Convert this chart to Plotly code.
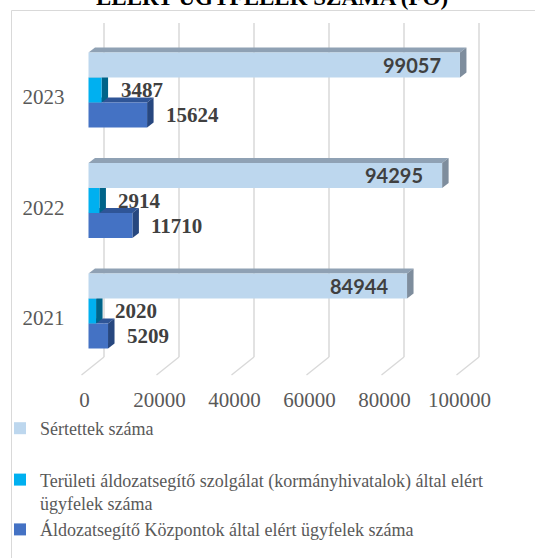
import plotly.graph_objects as go

# ---------------- data ----------------
years = ["2021", "2022", "2023"]
series_names = [
    "Áldozatsegítő Központok által elért ügyfelek száma",
    "Területi áldozatsegítő szolgálat (kormányhivatalok) által elért<br>ügyfelek száma",
    "Sértettek száma",
]
kozpontok = [5209, 11710, 15624]
teruleti = [2020, 2914, 3487]
sertettek = [84944, 94295, 99057]
x_ticks = [0, 20000, 40000, 60000, 80000, 100000]
title_text = "ELÉRT ÜGYFELEK SZÁMA (FŐ)"

front_colors = ["#4472C4", "#00B0F0", "#BDD7EE"]
top_colors = ["#2F5597", "#00719B", "#8FA1B4"]
side_colors = ["#27477F", "#006489", "#7E8D9D"]

# ---------------- geometry helpers ----------------
W, H = 535, 558
X0_PX = 88.5          # pixel of value 0
PX_PER_UNIT = 0.00375  # pixels per unit value
XMIN, XMAX = -10000, 105000
Y_TOP_PX, Y_BOT_PX = 34.75, 366.25
CAT_PX = (Y_BOT_PX - Y_TOP_PX) / 3
BARGAP = 0.32


def px(xp):
    return xp / W


def py(yp):
    return 1 - yp / H


def u(p):  # pixels -> value units on x
    return p / PX_PER_UNIT


dom_x = [px(X0_PX + XMIN * PX_PER_UNIT), px(X0_PX + XMAX * PX_PER_UNIT)]
dom_y = [py(Y_BOT_PX), py(Y_TOP_PX)]
ypos = list(range(len(years)))

fig = go.Figure()
all_series = [kozpontok, teruleti, sertettek]
groups = ["b", "b", "a"]
ranks = [3, 2, 1]
for i, (name, vals) in enumerate(zip(series_names, all_series)):
    fig.add_trace(go.Bar(
        y=ypos, x=vals, name=name, orientation="h",
        marker=dict(color=front_colors[i], line=dict(width=0)),
        legendgroup=groups[i], legendrank=ranks[i], hoverinfo="skip",
    ))

shapes = []
# back-wall gridlines and floor diagonals
for v in x_ticks:
    shapes.append(dict(type="line", xref="x", yref="paper",
                       x0=v + u(15.5), x1=v + u(15.5), y0=py(23), y1=py(357),
                       line=dict(color="#D9D9D9", width=1.5), layer="below"))
    shapes.append(dict(type="line", xref="x", yref="paper",
                       x0=v + u(15.5), x1=v - u(7), y0=py(357), y1=py(375),
                       line=dict(color="#D9D9D9", width=1.5), layer="below"))

# 3D faces
w = (1 - BARGAP) / 3
dxu = u(6.5)
dyc = 5 / CAT_PX
annotations = []
for t, vals in enumerate(all_series):
    for c, v in enumerate(vals):
        center = c + (t - 1) * w
        top, bot = center + w / 2, center - w / 2
        shapes.append(dict(type="path", xref="x", yref="y", layer="below",
                           path=f"M0,{top} L{v},{top} L{v + dxu},{top + dyc} L{dxu},{top + dyc} Z",
                           fillcolor=top_colors[t], line=dict(width=0)))
        shapes.append(dict(type="path", xref="x", yref="y", layer="below",
                           path=f"M{v},{bot} L{v},{top} L{v + dxu},{top + dyc} L{v + dxu},{bot + dyc} Z",
                           fillcolor=side_colors[t], line=dict(width=0)))
        if t == 2:
            annotations.append(dict(x=v, y=center, xref="x", yref="y", text=f"<b>{v}</b>",
                                    showarrow=False, xanchor="right", xshift=-17,
                                    font=dict(family="Lato, Open Sans, sans-serif", size=20, color="#404040")))
        else:
            annotations.append(dict(x=v, y=center, xref="x", yref="y", text=f"<b>{v}</b>",
                                    showarrow=False, xanchor="left", xshift=17,
                                    font=dict(family="Liberation Serif, serif", size=21, color="#404040")))

# outer frame
shapes.append(dict(type="rect", xref="paper", yref="paper", x0=px(11.5), x1=1.2,
                   y0=-0.2, y1=py(10.5), line=dict(color="#D9D9D9", width=1), layer="below"))

annotations.append(dict(x=px(272), y=py(12), xref="paper", yref="paper", text=f"<b>{title_text}</b>",
                        showarrow=False, xanchor="center", yanchor="bottom",
                        font=dict(family="Liberation Serif, serif", size=23, color="#000000")))

fig.update_layout(
    width=W, height=H, autosize=False,
    margin=dict(l=0, r=0, t=0, b=0, pad=0, autoexpand=False),
    paper_bgcolor="white", plot_bgcolor="rgba(0,0,0,0)",
    barmode="group", bargap=BARGAP, bargroupgap=0,
    shapes=shapes, annotations=annotations,
    xaxis=dict(domain=dom_x, range=[XMIN, XMAX], tickvals=x_ticks, ticktext=[str(v) for v in x_ticks],
               showgrid=False, zeroline=False, showline=False, ticks="",
               ticklabelshift=-4, ticklabelstandoff=19,
               tickfont=dict(family="Liberation Serif, serif", size=21, color="#595959")),
    yaxis=dict(domain=dom_y, range=[-0.5, 2.5], tickvals=ypos, ticktext=years,
               anchor="free", position=px(X0_PX),
               showgrid=False, zeroline=False, showline=False, ticks="",
               ticklabelshift=7, ticklabelstandoff=24,
               tickfont=dict(family="Liberation Serif, serif", size=21, color="#595959")),
    showlegend=True,
    legend=dict(x=0, y=py(410), xanchor="left", yanchor="top", traceorder="grouped",
                tracegroupgap=25, valign="top", bgcolor="rgba(0,0,0,0)",
                font=dict(family="Liberation Serif, serif", size=18, color="#595959")),
)

fig.write_html("out.html", config={"displayModeBar": False},
               post_script="document.body.style.margin='0px';")
